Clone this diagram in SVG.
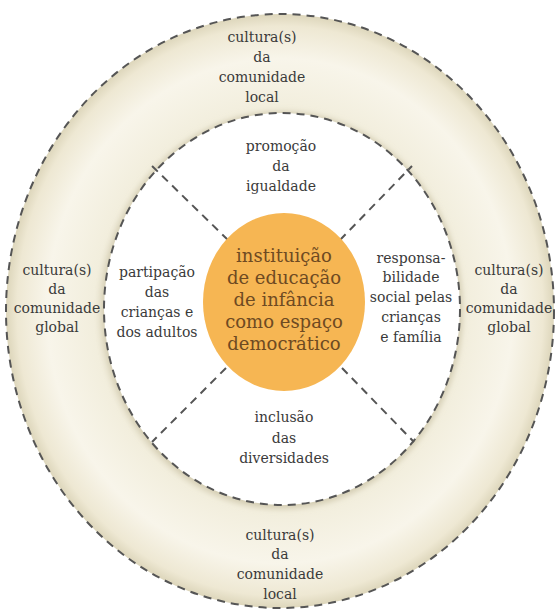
<svg xmlns="http://www.w3.org/2000/svg" width="556" height="613" viewBox="0 0 556 613">
<style>
.lbl{font-family:"DejaVu Serif","Liberation Serif",serif;font-size:14px;fill:#3a3a3a;text-anchor:middle}
.ctr{font-family:"DejaVu Serif","Liberation Serif",serif;font-size:18px;fill:#6e4a22;text-anchor:middle}
.dash{fill:none;stroke:#555;stroke-width:2;stroke-dasharray:8 6}
</style>
<defs>
<radialGradient id="ring" cx="0.5" cy="0.5" r="0.5">
<stop offset="0.6" stop-color="#ddd6bd"/>
<stop offset="0.68" stop-color="#f2eedd"/>
<stop offset="0.85" stop-color="#f8f5ea"/>
<stop offset="0.96" stop-color="#eee8d3"/>
<stop offset="1" stop-color="#ddd6bb"/>
</radialGradient>
<filter id="blur" x="-10%" y="-10%" width="120%" height="120%"><feGaussianBlur stdDeviation="3"/></filter>
</defs>
<rect width="556" height="613" fill="#ffffff"/>
<g id="outer-ring">
<ellipse cx="280" cy="311" rx="274" ry="297" fill="url(#ring)"/>
<ellipse class="dash" cx="280" cy="311" rx="274" ry="297"/>
</g>
<g id="inner-circle">
<ellipse cx="282" cy="310" rx="180" ry="198" fill="#d2cbb0" filter="url(#blur)"/>
<ellipse cx="282" cy="309" rx="178" ry="196" fill="#ffffff"/>
<ellipse class="dash" cx="282" cy="309" rx="178" ry="196"/>
</g>
<g id="connectors">
<line class="dash" x1="228" y1="240" x2="152" y2="166"/>
<line class="dash" x1="340" y1="240" x2="412" y2="166"/>
<line class="dash" x1="226" y1="368" x2="152" y2="442"/>
<line class="dash" x1="342" y1="368" x2="414" y2="442"/>
</g>
<g id="center">
<ellipse cx="284" cy="302" rx="81" ry="89" fill="#f6b653"/>
<text class="ctr" x="284" y="262">instituição</text>
<text class="ctr" x="284" y="284">de educação</text>
<text class="ctr" x="284" y="306">de infância</text>
<text class="ctr" x="284" y="328">como espaço</text>
<text class="ctr" x="284" y="350">democrático</text>
</g>
<g id="top-local">
<text class="lbl" x="262" y="42">cultura(s)</text>
<text class="lbl" x="262" y="62">da</text>
<text class="lbl" x="262" y="82">comunidade</text>
<text class="lbl" x="262" y="102">local</text>
</g>
<g id="bottom-local">
<text class="lbl" x="280" y="540">cultura(s)</text>
<text class="lbl" x="280" y="559">da</text>
<text class="lbl" x="280" y="579">comunidade</text>
<text class="lbl" x="280" y="599">local</text>
</g>
<g id="left-global">
<text class="lbl" x="57" y="275">cultura(s)</text>
<text class="lbl" x="57" y="294">da</text>
<text class="lbl" x="57" y="313">comunidade</text>
<text class="lbl" x="57" y="332">global</text>
</g>
<g id="right-global">
<text class="lbl" x="509" y="275">cultura(s)</text>
<text class="lbl" x="509" y="294">da</text>
<text class="lbl" x="509" y="313">comunidade</text>
<text class="lbl" x="509" y="332">global</text>
</g>
<g id="promocao">
<text class="lbl" x="281" y="151">promoção</text>
<text class="lbl" x="281" y="171">da</text>
<text class="lbl" x="281" y="191">igualdade</text>
</g>
<g id="inclusao">
<text class="lbl" x="284" y="422">inclusão</text>
<text class="lbl" x="284" y="443">das</text>
<text class="lbl" x="284" y="463">diversidades</text>
</g>
<g id="participacao">
<text class="lbl" x="157" y="277">partipação</text>
<text class="lbl" x="157" y="297">das</text>
<text class="lbl" x="157" y="317">crianças e</text>
<text class="lbl" x="157" y="337">dos adultos</text>
</g>
<g id="responsabilidade">
<text class="lbl" x="411" y="263">responsa-</text>
<text class="lbl" x="411" y="282">bilidade</text>
<text class="lbl" x="411" y="302">social pelas</text>
<text class="lbl" x="411" y="322">crianças</text>
<text class="lbl" x="411" y="342">e família</text>
</g>
</svg>
